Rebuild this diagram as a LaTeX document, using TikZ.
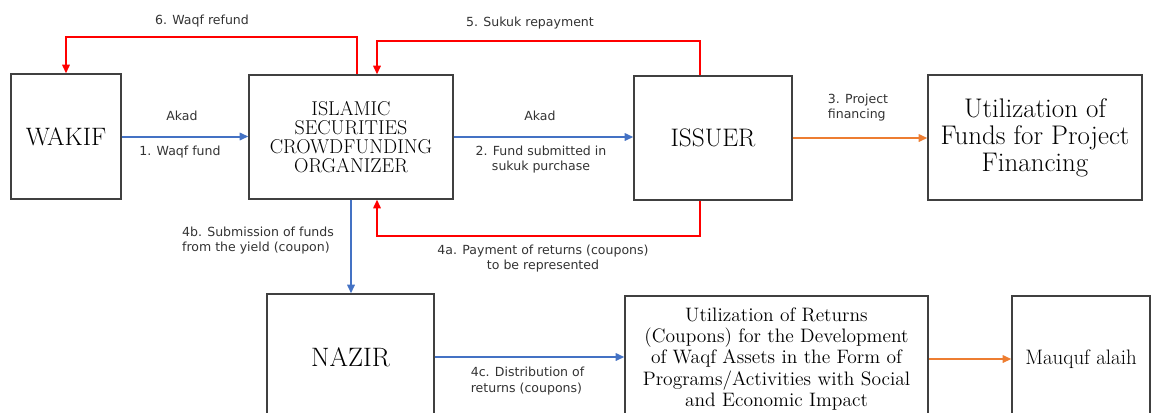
\documentclass[tikz,border=0pt]{standalone}
\usepackage{fontspec}
\usepackage{tikz}
\usepackage{xcolor}
\usetikzlibrary{arrows.meta}
\usetikzlibrary{calc}
\newfontfamily\labelfont{DejaVu Sans}
\definecolor{boxgray}{HTML}{404040}
\definecolor{textgray}{HTML}{333333}
\definecolor{flowblue}{HTML}{4472C4}
\definecolor{flowred}{HTML}{FF0000}
\definecolor{floworange}{HTML}{ED7D31}
\tikzset{
	box/.style={draw=boxgray, line width=0.9pt, align=center, inner sep=0pt, text=black},
	lbl/.style={font=\fontsize{9.4}{11.3}\selectfont\labelfont, text=textgray, inner sep=0pt},
	tip/.style={-{Triangle[length=6.5pt,width=5.5pt]}},
	bluearrow/.style={tip, draw=flowblue, line width=1.5pt},
	redarrow/.style={tip, draw=flowred, line width=1.5pt},
	orangearrow/.style={tip, draw=floworange, line width=1.5pt}
}

\begin{document}
\begin{tikzpicture}[x=0.75pt, y=-0.75pt]
		\useasboundingbox (0,0) rectangle (1160,412);
		\clip (0,0) rectangle (1160,412);
		\node[box, minimum width=82.5pt, minimum height=93.75pt, font=\fontsize{18.9}{20}\selectfont] (wakif) at (66,136.5) {WAKIF};
		\node[box, minimum width=153pt, minimum height=93pt, font=\fontsize{15}{14.3}\selectfont] (isco) at (351,137) {ISLAMIC\\SECURITIES\\CROWDFUNDING\\ORGANIZER};
		\node[box, minimum width=118.5pt, minimum height=93pt, font=\fontsize{19}{20}\selectfont] (issuer) at (713,138) {ISSUER};
		\node[box, minimum width=160.5pt, minimum height=93.75pt, font=\fontsize{20.2}{20.2}\selectfont] (fundsuse) at (1035,137.5) {Utilization of\\Funds for Project\\Financing};
		\node[box, minimum width=125.25pt, minimum height=94.5pt, font=\fontsize{20}{20}\selectfont] (nazir) at (350.5,357) {NAZIR};
		\node[box, minimum width=227.25pt, minimum height=94.5pt, font=\fontsize{14.6}{15.8}\selectfont] (returns) at (776.5,359) {Utilization of Returns\\(Coupons) for the Development\\of Waqf Assets in the Form of\\Programs/Activities with Social\\and Economic Impact};
		\node[box, minimum width=103.5pt, minimum height=94.5pt, font=\fontsize{15.7}{16}\selectfont] (mauquf) at (1081,359) {Mauquf alaih};
		
		\draw[bluearrow] (wakif.east) -- (wakif.east -| isco.west);
		\draw[bluearrow] (isco.east) -- (isco.east -| issuer.west);
		\draw[orangearrow] (issuer.east) -- (issuer.east -| fundsuse.west);
		\draw[redarrow] ([xshift=4.5pt]isco.north) -- ++(0,-37) -| (wakif.north);
		\draw[redarrow] ([xshift=-9.75pt]issuer.north) -- ++(0,-34) -| ([xshift=19.5pt]isco.north);
		\draw[redarrow] ([xshift=-9.75pt]issuer.south) -- ++(0,35) -| ([xshift=19.5pt]isco.south);
		\draw[bluearrow] (isco.south) -- (isco.south |- nazir.north);
		\draw[bluearrow] (nazir.east) -- (nazir.east -| returns.west);
		\draw[orangearrow] (returns.east) -- (returns.east -| mauquf.west);
		
		\node[lbl] (akad1) at (182,116) {Akad};
		\node[lbl] (step1) at (180,152) {1. Waqf fund};
		\node[lbl] (akad2) at (540,116) {Akad};
		\node[lbl, align=center] (step2) at (541,159.5) {2. Fund submitted in\\sukuk purchase};
		\node[lbl, align=left] (step3) at (858,107.5) {3. Project\\financing};
		\node[lbl, align=center] (step4a) at (543,258.5) {4a. Payment of returns (coupons)\\to be represented};
		\node[lbl, align=left] (step4b) at (258,240.5) {4b. Submission of funds\\from the yield (coupon)};
		\node[lbl, align=left] (step4c) at (527.5,381) {4c. Distribution of\\returns (coupons)};
		\node[lbl] (step5) at (530,23) {5. Sukuk repayment};
		\node[lbl] (step6) at (202,21) {6. Waqf refund};
	\end{tikzpicture}
\end{document}
